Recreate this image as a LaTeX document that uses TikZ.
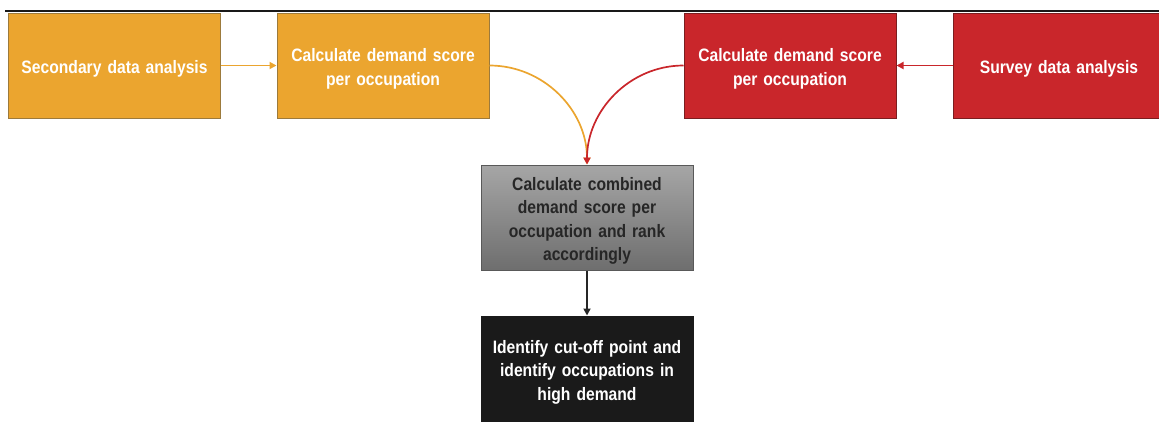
\documentclass[tikz,border=0pt]{standalone}
\usepackage{fontspec}
\setmainfont{Liberation Sans}[FakeStretch=0.87]
\usetikzlibrary{arrows.meta}
\definecolor{orbox}{HTML}{EBA52F}
\definecolor{orline}{HTML}{9C7A3C}
\definecolor{rdbox}{HTML}{C9262B}
\definecolor{rdline}{HTML}{7A1E20}
\definecolor{gytop}{HTML}{A6A6A6}
\definecolor{gybot}{HTML}{6E6E6E}
\definecolor{blkbox}{HTML}{1A1A1A}
\tikzset{
  box/.style={rectangle, minimum width=212pt, minimum height=105pt, inner sep=0pt,
    align=center, font=\fontsize{18}{23.5}\selectfont\bfseries, text width=200pt, line width=1pt,
    execute at begin node={\rule{0pt}{20pt}}},
  obox/.style={box, fill=orbox, draw=orline, text=white},
  rbox/.style={box, fill=rdbox, draw=rdline, text=white},
  gbox/.style={box, top color=gytop, bottom color=gybot, draw=gray!70!black, text=black!85},
  kbox/.style={box, fill=blkbox, draw=blkbox, text=white},
  arr/.style={line width=1.7pt, -{Triangle[length=7pt,width=7pt]}},
}
\begin{document}
\begin{tikzpicture}[x=1pt,y=-1pt]
\useasboundingbox (0,0) rectangle (1159,421);
\clip (0,0) rectangle (1159,421);
\draw[line width=2pt, black!90] (5,11) -- (1159,11);
\node[obox] (sec) at (114.5,65.5) {Secondary data analysis};
\node[obox] (cso) at (383,65.5) {Calculate demand score\\per occupation};
\node[rbox] (csr) at (790,65.5) {Calculate demand score\\per occupation};
\node[rbox] (sur) at (1059,65.5) {Survey data analysis};
\node[gbox] (comb) at (587,217.5) {Calculate combined\\demand score per\\occupation and rank\\accordingly};
\node[kbox] (cut) at (587,368.5) {Identify cut-off point and\\identify occupations in\\high demand};
\draw[arr, orbox] (sec.east) -- (cso.west);
\draw[arr, rdbox] (sur.west) -- (csr.east);
\draw[arr, orbox] (cso.east) to[out=0,in=90] (comb.north);
\draw[arr, rdbox] (csr.west) to[out=180,in=90] (comb.north);
\draw[arr, black!85] (comb.south) -- (cut.north);
\end{tikzpicture}
\end{document}
